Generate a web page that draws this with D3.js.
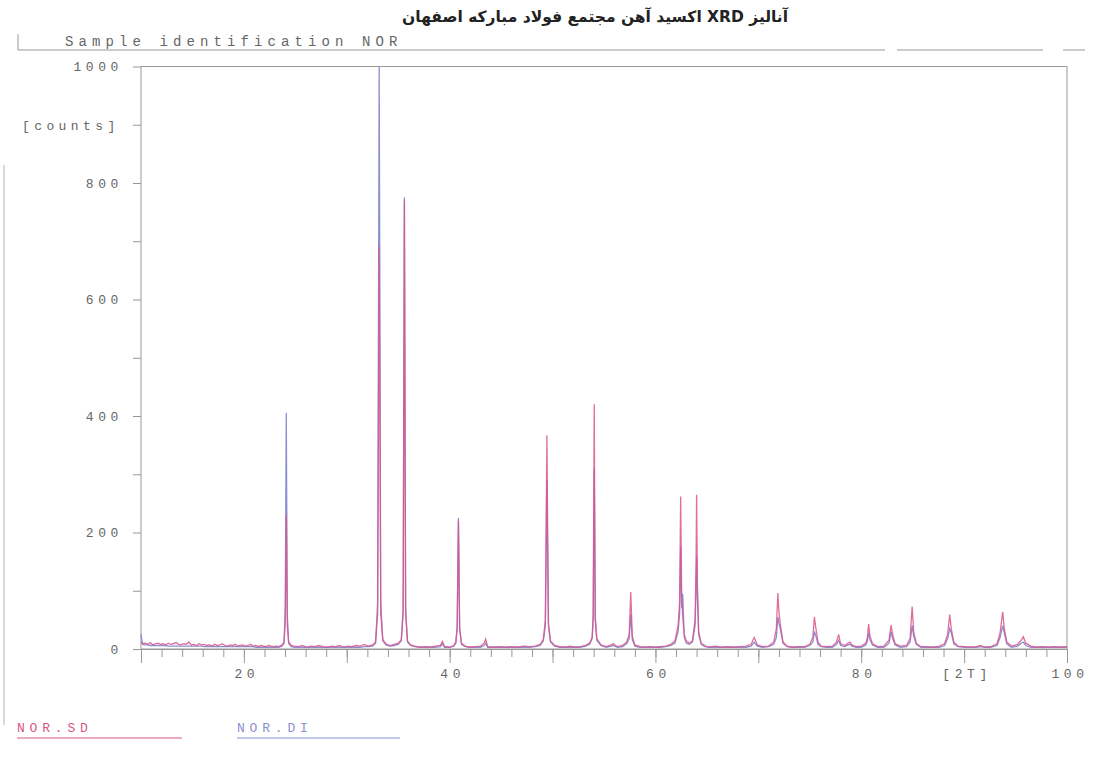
<!DOCTYPE html>
<html>
<head>
<meta charset="utf-8">
<script src="https://cdn.jsdelivr.net/npm/d3@7"></script>
<style>
  body { margin: 0; background: #fff; }
  svg { display: block; }
  .mono { font-family: "Liberation Mono", "DejaVu Sans Mono", monospace; fill: #666; }
</style>
</head>
<body>
<div id="chart"></div>
<script>
// 2-theta positions shared by both traces
var angles = [
  10.0, 10.15, 10.4, 10.65, 10.9, 11.15, 11.4, 11.65, 11.9, 12.15, 12.4, 12.65, 12.9, 13.15, 13.4, 13.65, 13.9, 14.15, 14.4, 14.65, 14.9, 15.15, 15.4, 15.65, 15.9,
  16.15, 16.4, 16.65, 16.9, 17.15, 17.4, 17.65, 17.9, 18.15, 18.4, 18.65, 18.9, 19.15, 19.4, 19.65, 19.9, 20.15, 20.4, 20.65, 20.9, 21.15, 21.4, 21.65, 21.9, 22.15, 22.4, 22.65, 22.9, 23.15, 23.4,
  23.7, 23.9, 24.02, 24.12, 24.22, 24.35, 24.6,
  24.9, 25.3, 25.7, 26.1, 26.5, 26.9, 27.3, 27.7, 28.1, 28.5, 28.9, 29.3, 29.7, 30.1, 30.5, 30.9, 31.3, 31.7, 32.1, 32.5,
  32.8, 33.0, 33.15, 33.3, 33.5, 33.8, 34.2, 34.6, 35.0, 35.3, 35.48, 35.6, 35.72, 35.9, 36.2,
  36.6, 37.1, 37.6, 38.1, 38.6, 39.1, 39.3, 39.5, 40.0, 40.4,
  40.6, 40.73, 40.85, 40.97, 41.15, 41.5,
  42.0, 42.5, 43.0, 43.35, 43.5, 43.7, 44.2, 44.8, 45.4, 46.0, 46.6, 47.2, 47.8, 48.3, 48.8,
  49.1, 49.3, 49.45, 49.6, 49.8, 50.2,
  50.7, 51.2, 51.7, 52.2, 52.7, 53.2, 53.6,
  53.85, 53.95, 54.05, 54.15, 54.3, 54.7,
  55.2, 55.7, 55.9, 56.3, 56.8, 57.2,
  57.45, 57.6, 57.75, 58.0,
  58.5, 59.0, 59.5, 60.0, 60.5, 61.0, 61.5, 61.9, 62.2,
  62.35, 62.45, 62.55, 62.65, 62.8, 63.0, 63.3, 63.6, 63.85, 63.95, 64.0, 64.08, 64.2, 64.45, 64.8,
  65.2, 65.8, 66.4, 67.0, 67.6, 68.2, 68.8, 69.3, 69.6, 69.9, 70.4, 71.0, 71.5,
  71.75, 71.9, 72.0, 72.15, 72.4, 72.8,
  73.3, 73.9, 74.5, 75.0,
  75.3, 75.45, 75.6, 75.8, 76.1,
  76.6, 77.2, 77.6, 77.8, 78.0, 78.4, 78.7, 78.9, 79.1, 79.5, 80.0, 80.45,
  80.6, 80.72, 80.85, 81.1, 81.6, 82.2, 82.7, 82.9, 83.05, 83.3, 83.8,
  84.4, 84.75, 84.95, 85.1, 85.35, 85.8,
  86.4, 87.0, 87.6, 88.1,
  88.4, 88.6, 88.75, 89.0, 89.4,
  90.0, 90.6, 91.2, 91.6, 92.0, 92.6, 93.2,
  93.5, 93.75, 93.9, 94.15, 94.6, 95.2, 95.55, 95.75, 96.0, 96.5,
  97.0, 97.6, 98.2, 98.8, 99.4, 100.0
];

// NOR.SD trace (pink)
var sdCounts = [
  12, 9, 10, 8, 11, 7, 9, 10, 8, 9, 7, 10, 8, 9, 11, 8, 7, 9, 8, 12, 7, 8, 6, 9, 7,
  8, 6, 7, 5, 8, 6, 7, 9, 6, 5, 7, 6, 8, 5, 6, 7, 5, 6, 8, 5, 6, 4, 6, 5, 4, 6, 5, 4, 5, 4,
  7, 12, 45, 230, 40, 12, 6,
  5, 4, 6, 3, 5, 4, 6, 4, 3, 5, 4, 6, 3, 5, 4, 6, 5, 8, 5, 7,
  12, 60, 690, 60, 16, 9, 6, 8, 10, 16, 60, 770, 60, 14, 7,
  5, 3, 4, 3, 5, 6, 13, 4, 3, 6,
  12, 40, 220, 35, 10, 5,
  3, 4, 5, 10, 17, 4, 3, 4, 3, 4, 3, 5, 4, 5, 8,
  16, 50, 367, 45, 14, 6,
  4, 3, 5, 3, 4, 6, 10,
  20, 60, 420, 55, 18, 7,
  4, 7, 9, 4, 6, 12,
  25, 98, 22, 7,
  4, 3, 4, 3, 4, 5, 8, 14, 40,
  80, 262, 90, 55, 25, 14, 10, 14, 50, 150, 265, 110, 30, 10, 6,
  3, 5, 3, 4, 3, 4, 5, 8, 20, 7, 4, 5, 12,
  35, 96, 65, 40, 12, 5,
  3, 4, 4, 8,
  20, 55, 35, 12, 5,
  4, 5, 12, 25, 9, 6, 10, 12, 7, 4, 5, 10,
  20, 43, 22, 9, 4, 5, 15, 41, 25, 9, 5,
  6, 18, 73, 30, 10, 4,
  4, 3, 5, 9,
  25, 59, 35, 12, 5,
  4, 3, 4, 6, 3, 4, 9,
  28, 64, 35, 12, 5, 8, 15, 21, 10, 5,
  3, 4, 3, 4, 3, 4
];

// NOR.DI trace (blue)
var diCounts = [
  26, 8, 7, 7, 6, 6, 6, 6, 6, 6, 6, 5, 5, 5, 5, 5, 5, 5, 5, 5, 5, 5, 5, 5, 5,
  4, 4, 4, 4, 4, 4, 4, 4, 4, 4, 4, 4, 4, 4, 4, 4, 4, 4, 4, 4, 3, 3, 3, 3, 3, 3, 3, 3, 3, 3,
  5, 10, 70, 405, 60, 10, 4,
  3, 3, 3, 3, 3, 3, 3, 3, 3, 3, 3, 3, 3, 3, 3, 3, 3, 4, 4, 5,
  10, 80, 1000, 80, 14, 7, 5, 6, 8, 14, 70, 775, 70, 12, 6,
  4, 3, 3, 3, 3, 4, 9, 3, 3, 5,
  10, 35, 225, 35, 8, 4,
  3, 3, 3, 6, 10, 3, 3, 3, 3, 3, 3, 3, 3, 4, 6,
  14, 40, 290, 40, 12, 5,
  3, 3, 3, 3, 3, 5, 8,
  18, 50, 310, 50, 15, 6,
  3, 5, 6, 3, 4, 9,
  18, 60, 16, 5,
  3, 3, 3, 3, 3, 4, 6, 10, 30,
  60, 175, 70, 95, 20, 10, 8, 12, 40, 100, 160, 90, 25, 8, 4,
  3, 3, 3, 3, 3, 3, 3, 5, 12, 5, 3, 4, 8,
  20, 55, 45, 33, 10, 4,
  3, 3, 3, 6,
  12, 30, 22, 8, 4,
  3, 3, 8, 15, 6, 4, 7, 8, 5, 3, 3, 7,
  14, 28, 16, 7, 3, 3, 10, 30, 18, 7, 3,
  4, 12, 40, 22, 8, 3,
  3, 3, 3, 6,
  18, 35, 28, 9, 4,
  3, 3, 3, 4, 3, 3, 6,
  20, 40, 28, 9, 3, 5, 10, 12, 6, 3,
  3, 3, 3, 3, 3, 3
];

var yTicks = [0, 200, 400, 600, 800, 1000];
var yMinor = [100, 300, 500, 700, 900];
var xLabels = [[20, '20'], [40, '40'], [60, '60'], [80, '80'], [90, '[2T]'], [100, '100']];
var title = 'آنالیز XRD اکسید آهن مجتمع فولاد مبارکه اصفهان';

var sdColor = '#d9558c', diColor = '#8b8fd0';

var width = 1094, height = 763;
var svg = d3.select('#chart').append('svg')
    .attr('width', width)
    .attr('height', height);

var x = d3.scaleLinear().domain([10, 100]).range([141, 1067]);
var y = d3.scaleLinear().domain([0, 1000]).range([649, 66.5]);

// frame
svg.append('rect')
    .attr('x', x(10)).attr('y', y(1000))
    .attr('width', x(100) - x(10)).attr('height', y(0) - y(1000))
    .attr('fill', 'none').attr('stroke', '#999').attr('stroke-width', 1);

// left counts axis
var yAxis = svg.append('g')
    .attr('transform', 'translate(' + x(10) + ',0)')
    .call(d3.axisLeft(y).tickValues(yTicks).tickSize(8).tickPadding(10).tickFormat(d3.format('d')));
yAxis.select('.domain').remove();
yAxis.selectAll('line').attr('stroke', '#999');
yAxis.selectAll('text').attr('class', 'mono').attr('font-size', 13)
    .style('letter-spacing', '4.6px').attr('fill', '#666');

var yAxisMinor = svg.append('g')
    .attr('transform', 'translate(' + x(10) + ',0)')
    .call(d3.axisLeft(y).tickValues(yMinor).tickSize(8).tickFormat(''));
yAxisMinor.select('.domain').remove();
yAxisMinor.selectAll('line').attr('stroke', '#999');

svg.append('text').attr('class', 'mono')
    .attr('x', 22).attr('y', y(900) + 5)
    .attr('font-size', 13).style('letter-spacing', '4.4px')
    .text('[counts]');

// bottom 2theta axis: minor every 2, major every 10
var xAxisMinor = svg.append('g')
    .attr('transform', 'translate(0,' + y(0) + ')')
    .call(d3.axisBottom(x).tickValues(d3.range(12, 100, 2)).tickSize(8).tickFormat(''));
xAxisMinor.select('.domain').remove();
xAxisMinor.selectAll('line').attr('stroke', '#999');

var xAxisMajor = svg.append('g')
    .attr('transform', 'translate(0,' + y(0) + ')')
    .call(d3.axisBottom(x).tickValues(d3.range(10, 101, 10)).tickSize(14).tickFormat(''));
xAxisMajor.select('.domain').attr('stroke', '#999');
xAxisMajor.selectAll('line').attr('stroke', '#999');

svg.append('g').selectAll('text')
    .data(xLabels)
    .enter().append('text')
    .attr('class', 'mono')
    .attr('x', function(d) { return x(d[0]) + 3; })
    .attr('y', 678)
    .attr('text-anchor', 'middle')
    .attr('font-size', 13)
    .style('letter-spacing', '4.6px')
    .text(function(d) { return d[1]; });

// traces
var pts = function(vals) {
    return angles.map(function(a, i) { return [a, vals[i]]; });
};
var line = d3.line()
    .x(function(d) { return x(d[0]); })
    .y(function(d) { return y(d[1]); });

svg.append('path')
    .datum(pts(diCounts))
    .attr('fill', 'none')
    .attr('stroke', diColor)
    .attr('stroke-width', 1.3)
    .attr('d', line);

svg.append('path')
    .datum(pts(sdCounts))
    .attr('fill', 'none')
    .attr('stroke', sdColor)
    .attr('stroke-opacity', 0.85)
    .attr('stroke-width', 1.3)
    .attr('d', line);

// header (right-to-left title)
svg.append('text')
    .attr('x', 788).attr('y', 22)
    .attr('direction', 'rtl')
    .attr('text-anchor', 'start')
    .attr('font-family', '"DejaVu Sans", sans-serif')
    .attr('font-weight', 'bold')
    .attr('font-size', 15.5)
    .attr('fill', '#222')
    .text(title);

svg.append('text').attr('class', 'mono')
    .attr('x', 65).attr('y', 46)
    .attr('font-size', 14).style('letter-spacing', '5.1px')
    .text('Sample identification NOR');

var header = [[18, 885], [897, 1043], [1063, 1085]];
svg.append('g').selectAll('line')
    .data(header)
    .enter().append('line')
    .attr('x1', function(d) { return d[0]; })
    .attr('x2', function(d) { return d[1]; })
    .attr('y1', 50).attr('y2', 50)
    .attr('stroke', '#999');
svg.append('line')
    .attr('x1', 18).attr('x2', 18).attr('y1', 34).attr('y2', 50)
    .attr('stroke', '#999');

// scanned page edge
svg.append('line')
    .attr('x1', 4).attr('x2', 4).attr('y1', 165).attr('y2', 725)
    .attr('stroke', '#ccc').attr('stroke-width', 1.5);

// legend
var legend = [['NOR.SD', sdColor, 17, 182], ['NOR.DI', diColor, 237, 400]];
var lg = svg.append('g').selectAll('g')
    .data(legend)
    .enter().append('g');
lg.append('text')
    .attr('x', function(d) { return d[2]; })
    .attr('y', 732)
    .attr('font-family', '"Liberation Mono", monospace')
    .attr('font-size', 13)
    .style('letter-spacing', '4.8px')
    .attr('fill', function(d) { return d[1]; })
    .text(function(d) { return d[0]; });
lg.append('line')
    .attr('x1', function(d) { return d[2]; })
    .attr('x2', function(d) { return d[3]; })
    .attr('y1', 738).attr('y2', 738)
    .attr('stroke', function(d) { return d[1]; });
</script>
</body>
</html>
